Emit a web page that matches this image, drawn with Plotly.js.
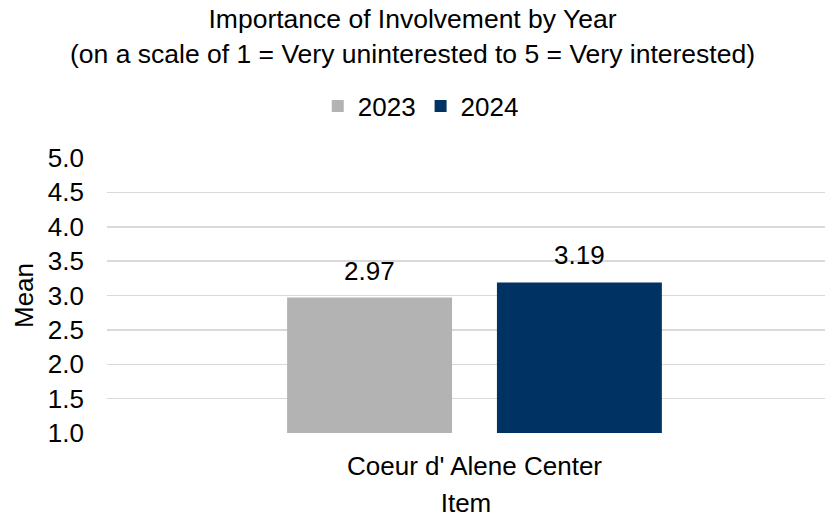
<!DOCTYPE html>
<html>
<head>
<meta charset="utf-8">
<script src="https://cdn.plot.ly/plotly-3.0.1.min.js"></script>
<style>html,body{margin:0;padding:0;background:#fff;}#chart{width:825px;height:518px;}</style>
</head>
<body>
<div id="chart"></div>
<script>
const categories = ["Coeur d' Alene Center"];
const seriesNames = ["2023", "2024"];
const values2023 = [2.97];
const values2024 = [3.19];
const colors = ["#b3b3b3", "#003263"];
const yTicks = [1.0, 1.5, 2.0, 2.5, 3.0, 3.5, 4.0, 4.5, 5.0];

const FONT = "Liberation Sans, Arial, sans-serif";
const FS = 26;
const allValues = [values2023, values2024];

const traces = allValues.map((vals, i) => ({
  type: 'bar',
  name: seriesNames[i],
  x: categories,
  y: vals,
  marker: {color: colors[i]},
  hoverinfo: 'skip'
}));

const annotations = [];
allValues.forEach((vals, i) => {
  vals.forEach((v, j) => {
    annotations.push({
      x: j, xref: 'x', y: v, yref: 'y',
      text: v.toFixed(2),
      showarrow: false,
      xanchor: 'center', yanchor: 'bottom',
      xshift: (i === 0 ? -1 : 1) * 105,
      yshift: 10,
      font: {family: FONT, size: FS, color: '#000'}
    });
  });
});

const layout = {
  width: 825, height: 518,
  paper_bgcolor: '#fff', plot_bgcolor: '#fff',
  margin: {l: 107, r: 0, t: 158, b: 85},
  font: {family: FONT, color: '#000'},
  title: {
    text: 'Importance of Involvement by Year<br>(on a scale of 1 = Very uninterested to 5 = Very interested)',
    font: {family: FONT, size: 26.5, color: '#000'},
    x: 0.5, xref: 'container', xanchor: 'center',
    y: 0.945, yref: 'container', yanchor: 'middle'
  },
  barmode: 'group',
  bargap: 0.429,
  bargroupgap: 0.214,
  showlegend: true,
  legend: {
    orientation: 'h',
    x: 0.51, xref: 'container', xanchor: 'center',
    y: 0.795, yref: 'container', yanchor: 'middle',
    font: {family: FONT, size: FS, color: '#000'},
    itemwidth: 30,
    traceorder: 'normal'
  },
  xaxis: {
    type: 'category',
    range: [-0.5, 0.4769],
    showgrid: false, zeroline: false, showline: false,
    ticks: '',
    ticklabelstandoff: 15,
    tickfont: {family: FONT, size: FS, color: '#000'},
    title: {text: 'Item', font: {family: FONT, size: FS, color: '#000'}, standoff: 13}
  },
  yaxis: {
    range: [1, 5],
    tickvals: yTicks,
    ticktext: yTicks.map(t => t.toFixed(1)),
    showgrid: true, gridcolor: '#d9d9d9', gridwidth: 1.5,
    zeroline: false, showline: false,
    ticks: '',
    ticklabelstandoff: 22,
    tickfont: {family: FONT, size: FS, color: '#000'},
    title: {text: 'Mean', font: {family: FONT, size: FS, color: '#000'}, standoff: 6}
  },
  annotations: annotations
};

Plotly.newPlot('chart', traces, layout, {displayModeBar: false, staticPlot: true});
</script>
</body>
</html>
